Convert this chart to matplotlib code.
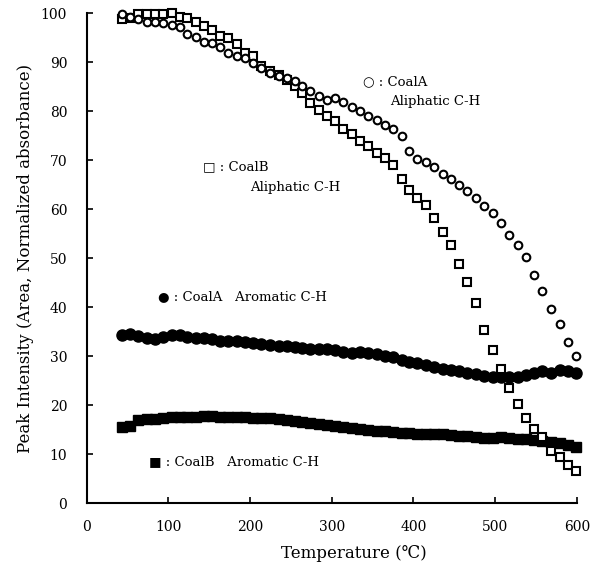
import numpy as np
import matplotlib
matplotlib.use("Agg")
import matplotlib.pyplot as plt

temps = [43, 53, 63, 74, 84, 94, 104, 114, 123, 134,
         144, 153, 163, 173, 184, 194, 204, 214, 225, 235,
         245, 255, 264, 274, 284, 294, 304, 314, 325, 335,
         345, 355, 365, 375, 386, 395, 405, 415, 425, 436,
         446, 456, 466, 477, 487, 497, 507, 517, 528, 538,
         548, 558, 568, 579, 589, 599]

# CoalA aliphatic C-H (open circles)
coalA_aliph = [99.9, 99.2, 98.8, 98.3, 98.3, 98.1, 97.6, 97.2, 95.7, 95.2,
               94.2, 94.0, 93.1, 92.0, 91.4, 90.8, 89.9, 88.9, 87.9, 87.3,
               86.8, 86.2, 85.1, 84.1, 83.1, 82.3, 82.8, 81.9, 80.9, 80.0,
               79.0, 78.2, 77.3, 76.3, 74.9, 71.8, 70.3, 69.6, 68.6, 67.1,
               66.1, 65.0, 63.7, 62.3, 60.7, 59.2, 57.1, 54.8, 52.8, 50.2,
               46.5, 43.4, 39.7, 36.6, 32.8, 30.1]

# CoalB aliphatic C-H (open squares)
coalB_aliph = [98.9, 99.1, 99.8, 99.8, 99.8, 99.8, 100.0, 99.3, 99.0, 98.3,
               97.4, 96.7, 95.4, 94.9, 93.8, 92.0, 91.3, 89.2, 88.2, 87.5,
               86.5, 85.1, 83.8, 81.7, 80.2, 79.0, 78.0, 76.3, 75.3, 73.9,
               72.9, 71.5, 70.5, 69.1, 66.2, 63.9, 62.3, 60.8, 58.2, 55.3,
               52.7, 48.8, 45.1, 40.9, 35.4, 31.3, 27.3, 23.5, 20.2, 17.3,
               15.1, 13.4, 10.7, 9.5, 7.8, 6.6]

# CoalA aromatic C-H (filled circles)
coalA_arom = [34.4, 34.6, 34.2, 33.8, 33.5, 34.0, 34.4, 34.4, 34.0, 33.7,
              33.7, 33.4, 33.1, 33.0, 33.0, 32.8, 32.7, 32.5, 32.2, 32.0,
              32.0, 31.8, 31.6, 31.5, 31.5, 31.4, 31.3, 30.9, 30.7, 30.8,
              30.6, 30.4, 30.1, 29.8, 29.3, 28.9, 28.5, 28.2, 27.8, 27.4,
              27.2, 26.9, 26.6, 26.3, 26.0, 25.8, 25.7, 25.7, 25.8, 26.2,
              26.6, 26.9, 26.5, 27.2, 26.9, 26.6]

# CoalB aromatic C-H (filled squares)
coalB_arom = [15.6, 15.7, 16.9, 17.1, 17.2, 17.4, 17.6, 17.6, 17.6, 17.6,
              17.7, 17.7, 17.5, 17.5, 17.6, 17.5, 17.3, 17.4, 17.3, 17.1,
              17.0, 16.7, 16.5, 16.3, 16.2, 16.0, 15.8, 15.6, 15.3, 15.1,
              15.0, 14.8, 14.7, 14.5, 14.4, 14.2, 14.1, 14.1, 14.1, 14.0,
              13.9, 13.7, 13.6, 13.5, 13.3, 13.2, 13.4, 13.2, 13.0, 13.1,
              12.8, 12.6, 12.5, 12.2, 11.9, 11.4]

serif = ['DejaVu Serif', 'DejaVu Sans']
plt.rcParams['font.family'] = serif

fig = plt.figure(figsize=(6.0, 5.68), dpi=100)
ax = fig.add_axes([0.1443, 0.1144, 0.8170, 0.8620])

# data series (markers may poke past the 100 line, as in the original)
ax.plot(temps, coalB_arom, 's', ms=7.5, mfc='black', mec='black', mew=1,
        clip_on=False)
ax.plot(temps, coalA_arom, 'o', ms=8, mfc='black', mec='black', mew=1,
        clip_on=False)
ax.plot(temps, coalB_aliph, 's', ms=5.5, mfc='white', mec='black', mew=1.5,
        clip_on=False)
ax.plot(temps, coalA_aliph, 'o', ms=5.5, mfc='white', mec='black', mew=1.5,
        clip_on=False)

# in-plot labels
tfs = 9.5
ax.text(338, 86.1, '\u25cb : CoalA', fontsize=tfs, va='center')
ax.text(371, 82.0, 'Aliphatic C-H', fontsize=tfs, va='center')
ax.text(143, 68.7, '\u25a1 : CoalB', fontsize=tfs, va='center')
ax.text(200, 64.4, 'Aliphatic C-H', fontsize=tfs, va='center')
ax.text(88, 42.1, '\u25cf : CoalA   Aromatic C-H', fontsize=tfs, va='center')
ax.text(76, 8.4, '\u25a0 : CoalB   Aromatic C-H', fontsize=tfs, va='center')

# axes styling
ax.set_xlim(0, 600)
ax.set_ylim(0, 100)
ax.set_xticks(np.arange(0, 601, 100))
ax.set_yticks(np.arange(0, 101, 10))
for s in ['top', 'right']:
    ax.spines[s].set_visible(False)
for s in ['left', 'bottom']:
    ax.spines[s].set_linewidth(1.5)
ax.tick_params(direction='in', length=4, width=1.2, labelsize=10)
ax.tick_params(axis='x', pad=12)
ax.tick_params(axis='y', pad=14)

ax.set_xlabel('Temperature (\u2103)', fontsize=12, labelpad=6)
ax.xaxis.set_label_coords(0.545, -0.085)
ax.set_ylabel('Peak Intensity (Area, Normalized absorbance)', fontsize=12)
ax.yaxis.set_label_coords(-0.108, 0.5)

fig.savefig('out.png', dpi=100)
